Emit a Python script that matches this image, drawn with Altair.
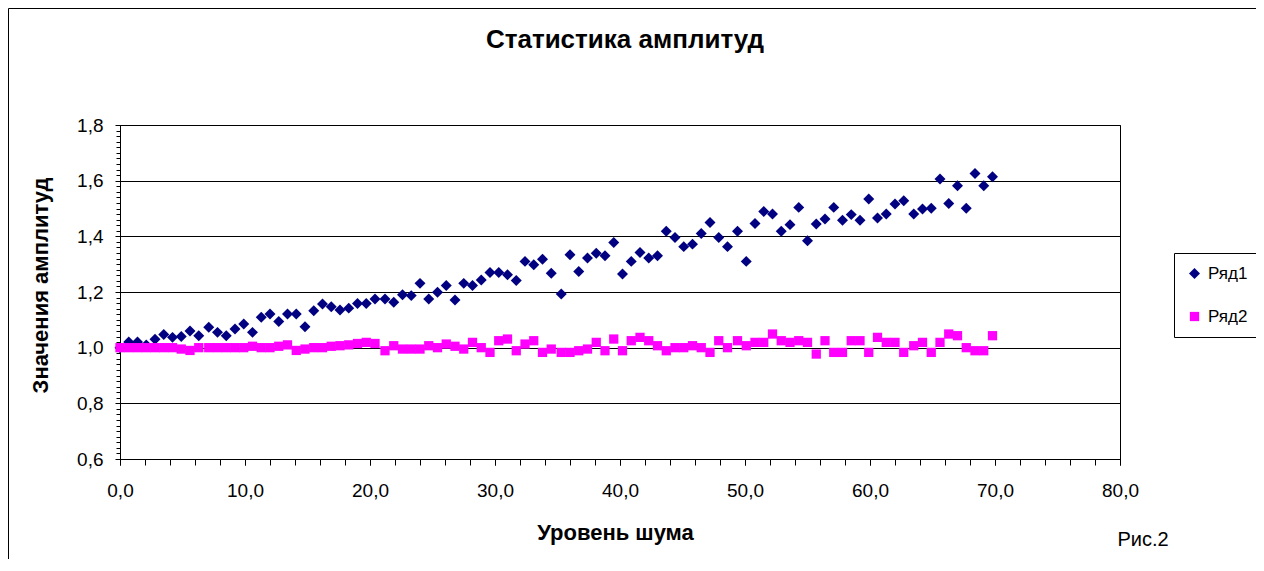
import altair as alt
import pandas as pd

# ---- data ----
x_vals = [
    0.0, 0.7, 1.4, 2.1, 2.8, 3.5, 4.2, 4.9, 5.6, 6.3,
    7.1, 7.8, 8.5, 9.2, 9.9, 10.6, 11.3, 12.0, 12.7, 13.4,
    14.1, 14.8, 15.5, 16.2, 16.9, 17.6, 18.3, 19.0, 19.7, 20.4,
    21.2, 21.9, 22.6, 23.3, 24.0, 24.7, 25.4, 26.1, 26.8, 27.5,
    28.2, 28.9, 29.6, 30.3, 31.0, 31.7, 32.4, 33.1, 33.8, 34.5,
    35.3, 36.0, 36.7, 37.4, 38.1, 38.8, 39.5, 40.2, 40.9, 41.6,
    42.3, 43.0, 43.7, 44.4, 45.1, 45.8, 46.5, 47.2, 47.9, 48.6,
    49.4, 50.1, 50.8, 51.5, 52.2, 52.9, 53.6, 54.3, 55.0, 55.7,
    56.4, 57.1, 57.8, 58.5, 59.2, 59.9, 60.6, 61.3, 62.0, 62.7,
    63.5, 64.2, 64.9, 65.6, 66.3, 67.0, 67.7, 68.4, 69.1, 69.8,
]

ryad1 = [
    1.00, 1.02, 1.02, 1.01, 1.03, 1.047, 1.037, 1.04, 1.06, 1.043,
    1.073, 1.055, 1.043, 1.067, 1.085, 1.055, 1.109, 1.121, 1.094, 1.121,
    1.121, 1.075, 1.133, 1.157, 1.147, 1.135, 1.142, 1.159, 1.159, 1.175,
    1.175, 1.163, 1.19, 1.187, 1.231, 1.175, 1.199, 1.223, 1.171, 1.231,
    1.223, 1.243, 1.27, 1.27, 1.262, 1.241, 1.31, 1.298, 1.318, 1.267,
    1.193, 1.334, 1.274, 1.322, 1.339, 1.330, 1.378, 1.265, 1.31, 1.342,
    1.322, 1.33, 1.418, 1.396, 1.363, 1.372, 1.41, 1.45, 1.396, 1.363,
    1.418, 1.31, 1.446, 1.489, 1.48, 1.418, 1.442, 1.504, 1.384, 1.444,
    1.462, 1.504, 1.458, 1.478, 1.458, 1.534, 1.466, 1.48, 1.516, 1.528,
    1.48, 1.498, 1.501, 1.606, 1.518, 1.582, 1.501, 1.626, 1.582, 1.614,
]

ryad2 = [
    1.0, 1.0, 1.0, 1.0, 1.0, 1.0, 1.0, 0.995, 0.99, 1.0,
    1.0, 1.0, 1.0, 1.0, 1.0, 1.005, 1.0, 1.0, 1.005, 1.01,
    0.99, 0.995, 1.0, 1.0, 1.005, 1.007, 1.01, 1.015, 1.019, 1.015,
    0.989, 1.007, 0.995, 0.995, 0.995, 1.007, 1.0, 1.013, 1.005, 0.995,
    1.019, 1.0, 0.983, 1.025, 1.031, 0.989, 1.013, 1.025, 0.983, 0.995,
    0.983, 0.983, 0.989, 0.995, 1.019, 0.989, 1.031, 0.989, 1.025, 1.037,
    1.025, 1.007, 0.989, 1.0, 1.0, 1.007, 1.0, 0.983, 1.025, 1.0,
    1.025, 1.007, 1.019, 1.019, 1.049, 1.025, 1.019, 1.025, 1.019, 0.977,
    1.025, 0.983, 0.983, 1.025, 1.025, 0.983, 1.037, 1.019, 1.019, 0.983,
    1.007, 1.019, 0.983, 1.019, 1.049, 1.043, 1.0, 0.989, 0.989, 1.043,
]

series_names = ["Ряд1", "Ряд2"]
series_colors = ["#000080", "#FF00FF"]
series_shapes = ["diamond", "square"]
series_sizes = [120, 86]

x_ticks = [0, 10, 20, 30, 40, 50, 60, 70, 80]
x_minor = [v for v in range(0, 81, 2)]
y_ticks = [0.6, 0.8, 1.0, 1.2, 1.4, 1.6, 1.8]
y_minor = [round(0.6 + 0.02 * i, 2) for i in range(61)]

chart_title = "Статистика амплитуд"
x_title = "Уровень шума"
y_title = "Значения амплитуд"
fig_text = "Рис.2"

assert len(x_vals) == len(ryad1) == len(ryad2)

df = pd.DataFrame({
    "x": x_vals + x_vals,
    "y": ryad1 + ryad2,
    "series": [series_names[0]] * len(ryad1) + [series_names[1]] * len(ryad2),
})

FONT = "Liberation Sans"
fmt = "replace(format(datum.value, '.1f'), '.', ',')"

x_scale = alt.Scale(domain=[0, 80], nice=False, zero=False)
y_scale = alt.Scale(domain=[0.6, 1.8], nice=False, zero=False)

legend = alt.Legend(
    title=None, orient="none", legendX=1054, legendY=128,
    strokeColor="black", fillColor="white", padding=12,
    labelFontSize=17, labelFont=FONT, labelColor="black",
    rowPadding=25, labelOffset=5,
)

points = alt.Chart(df).mark_point(filled=True, opacity=1, strokeWidth=0).encode(
    x=alt.X("x:Q", scale=x_scale, axis=alt.Axis(
        values=x_ticks, labelExpr=fmt, title=x_title, grid=False,
        tickSize=6, labelPadding=16, labelFlush=False, labelOverlap=False,
        titleX=495, titleY=73, titleBaseline="middle", orient="bottom")),
    y=alt.Y("y:Q", scale=y_scale, axis=alt.Axis(
        values=y_ticks, labelExpr=fmt, title=y_title, grid=True,
        tickSize=5, labelPadding=12, labelFlush=False, labelOverlap=False,
        titleX=-80, titleY=160, titleAngle=-90, titleBaseline="middle",
        titleAlign="center", orient="left")),
    color=alt.Color("series:N", scale=alt.Scale(domain=series_names, range=series_colors), legend=legend),
    shape=alt.Shape("series:N", scale=alt.Scale(domain=series_names, range=series_shapes), legend=legend),
    size=alt.Size("series:N", scale=alt.Scale(domain=series_names, range=series_sizes), legend=legend),
)

minor = alt.Chart(df).mark_point(opacity=0).encode(
    x=alt.X("x:Q", scale=x_scale, axis=alt.Axis(
        values=x_minor, labels=False, title=None, grid=False, domain=False,
        tickSize=6, orient="bottom")),
    y=alt.Y("y:Q", scale=y_scale, axis=alt.Axis(
        values=y_minor, labels=False, title=None, grid=False, domain=False,
        tickSize=4, orient="left")),
)

frame = alt.Chart(alt.Data(values=[{}])).mark_rect(
    fillOpacity=0, stroke="black", strokeWidth=1
).encode(
    x=alt.value(-111.5), x2=alt.value(1200), y=alt.value(-116.5), y2=alt.value(460)
)

title_text = alt.Chart(alt.Data(values=[{}])).mark_text(
    font=FONT, fontSize=26, fontWeight="bold", color="black",
    align="center", baseline="middle"
).encode(x=alt.value(505), y=alt.value(-85), text=alt.value(chart_title))

fig_label = alt.Chart(alt.Data(values=[{}])).mark_text(
    font=FONT, fontSize=20, color="black", align="center", baseline="middle"
).encode(x=alt.value(1023), y=alt.value(415), text=alt.value(fig_text))

chart = alt.layer(frame, minor, points, title_text, fig_label).resolve_scale(
    x="independent", y="independent"
).properties(
    width=1000, height=334,
    autosize=alt.AutoSizeParams(type="none"),
    padding={"left": 112, "top": 117, "right": 136, "bottom": 100},
    background="white",
).configure_view(
    stroke="black", strokeWidth=1
).configure_axis(
    domainColor="black", tickColor="black", gridColor="black", gridOpacity=1,
    gridWidth=1, labelColor="black", titleColor="black",
    labelFont=FONT, titleFont=FONT, labelFontSize=19, titleFontSize=22,
    titleFontWeight="bold",
)

chart.save("out.html", embed_options={"renderer": "svg", "actions": False})
